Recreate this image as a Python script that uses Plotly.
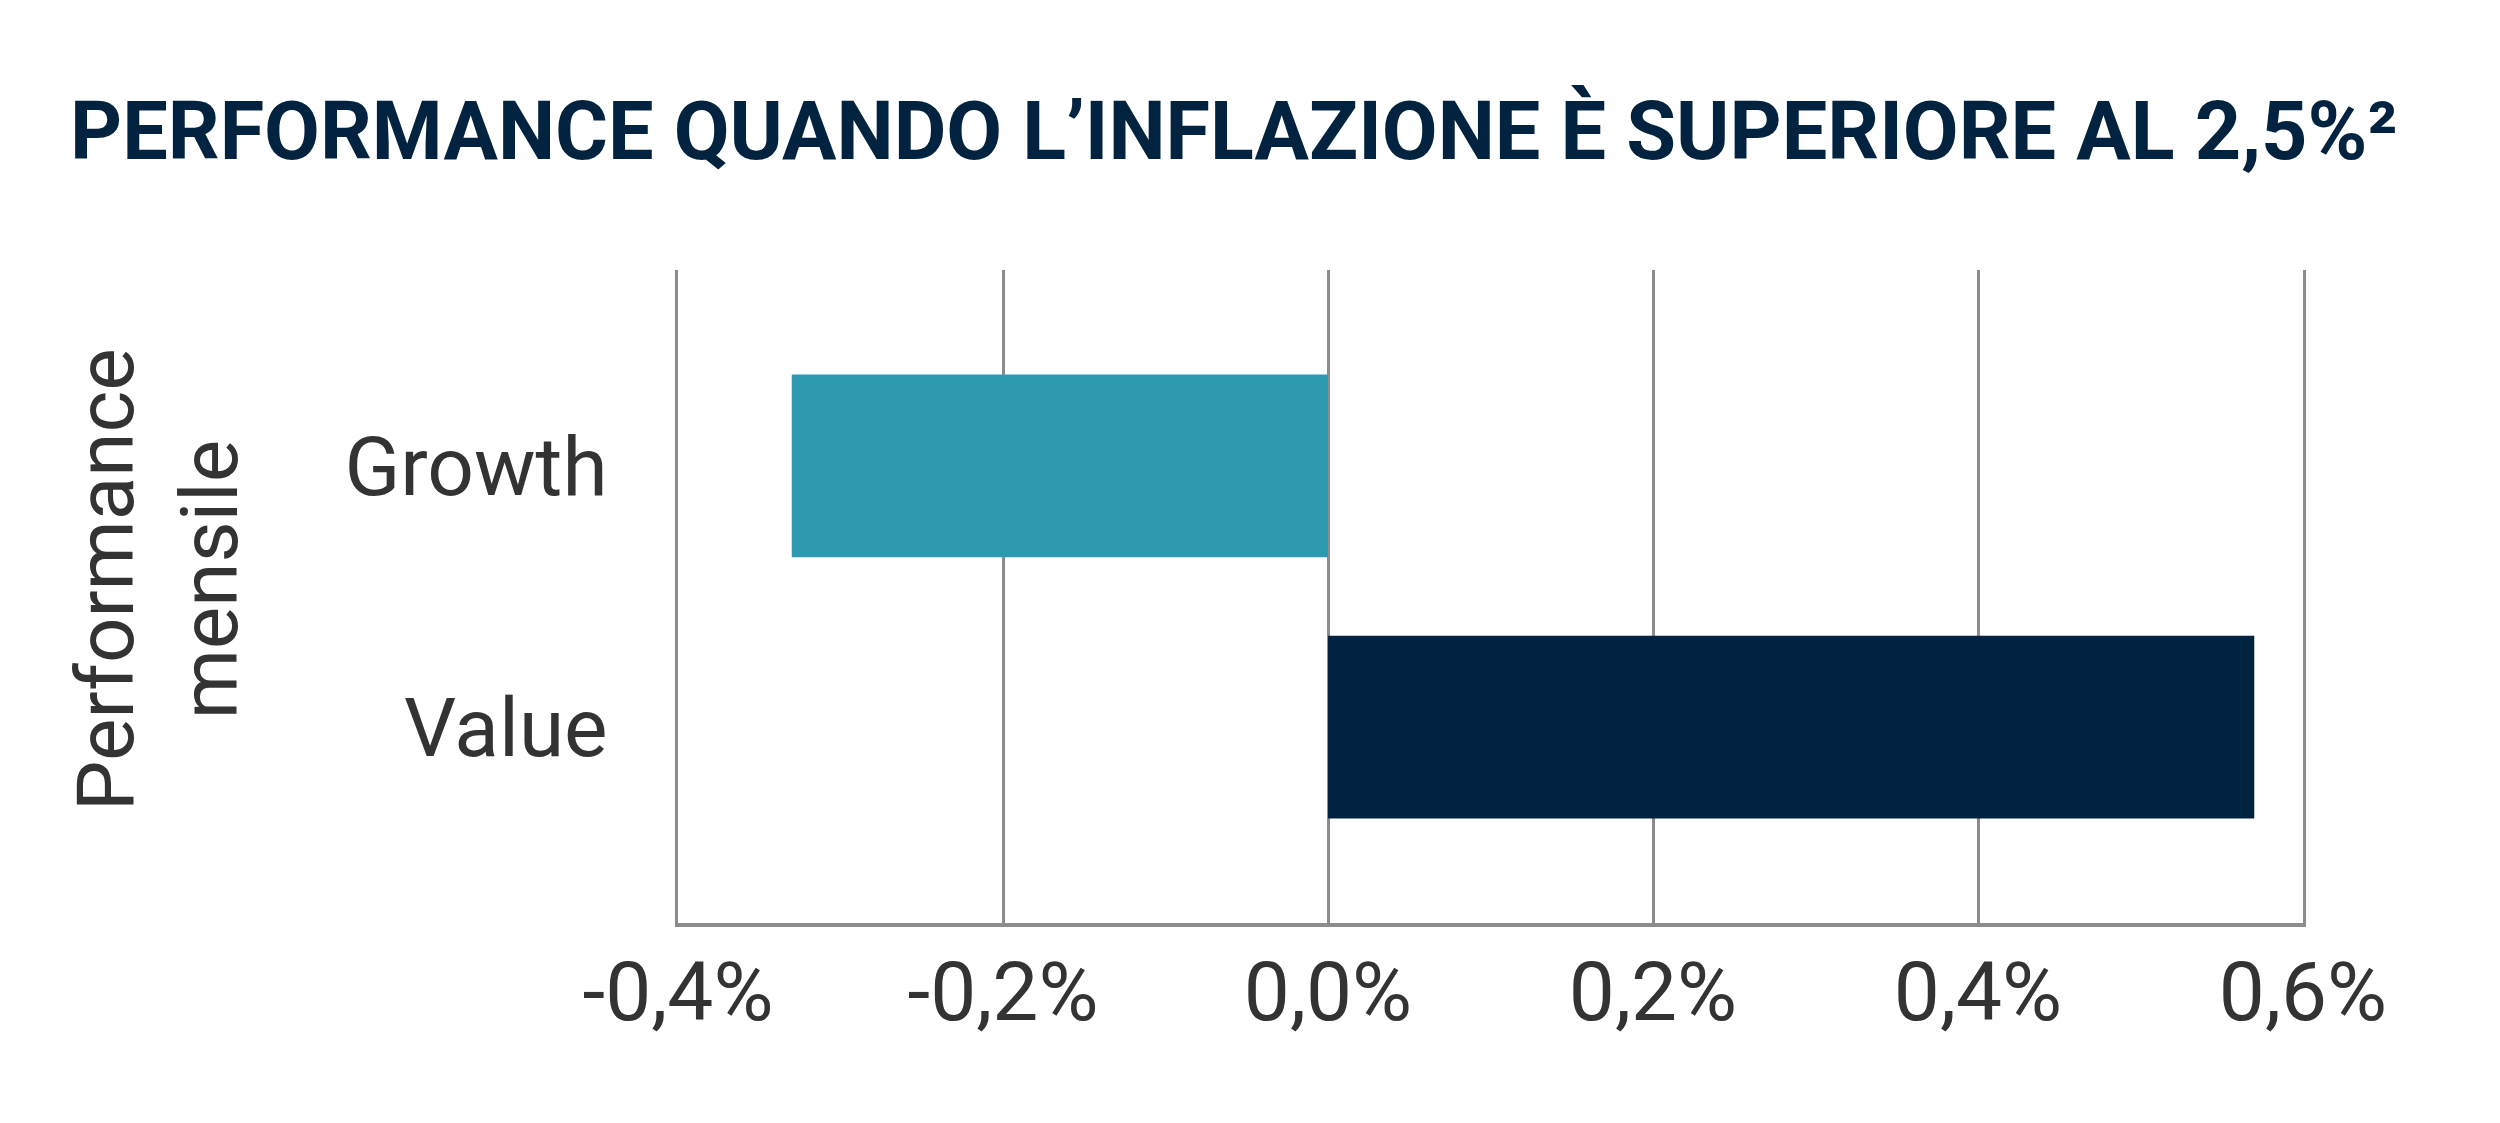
import plotly.graph_objects as go

# ---- data ----
categories = ["Growth", "Value"]
values = [-0.33, 0.57]          # performance mensile, %
bar_colors = ["#2E9AB0", "#02233F"]
x_tick_vals = [-0.4, -0.2, 0.0, 0.2, 0.4, 0.6]
x_tick_text = ["-0,4%", "-0,2%", "0,0%", "0,2%", "0,4%", "0,6%"]
title_text = "PERFORMANCE QUANDO L’INFLAZIONE È SUPERIORE AL 2,5%²"
y_title_text = "Performance<br>mensile"

W, H = 2500, 1123
L, R, T, B = 678, 197, 270, 200
plot_h = H - T - B
plot_w = W - L - R

fig = go.Figure()
fig.add_trace(go.Bar(
    x=values, y=categories, orientation="h",
    marker=dict(color=bar_colors, line=dict(width=0)),
    width=0.7, hoverinfo="skip", showlegend=False,
))

grid_color = "#8c8c8c"
fig.update_layout(
    width=W, height=H,
    margin=dict(l=L, r=R, t=T, b=B, pad=0),
    paper_bgcolor="white", plot_bgcolor="white",
    title=dict(
        text=title_text,
        font=dict(family="Roboto", size=81, color="#02233F", weight="bold"),
        x=70 / W, xanchor="left", xref="container",
        y=1 - 131 / H, yanchor="middle", yref="container",
    ),
    xaxis=dict(
        range=[-0.4, 0.6],
        tickvals=x_tick_vals, ticktext=x_tick_text,
        showgrid=True, gridcolor=grid_color, gridwidth=3,
        zeroline=True, zerolinecolor=grid_color, zerolinewidth=3,
        showline=True, linecolor=grid_color, linewidth=4,
        ticks="", ticklabelstandoff=-5,
        tickfont=dict(family="Roboto", size=82, color="#333333"),
        fixedrange=True,
    ),
    yaxis=dict(
        range=[1.75, -0.75],
        type="category",
        showgrid=False, zeroline=False,
        showline=True, mirror=True, linecolor=grid_color, linewidth=3,
        ticks="", ticklabelstandoff=51,
        tickfont=dict(family="Roboto", size=82, color="#333333"),
        fixedrange=True,
    ),
    annotations=[dict(
        text=y_title_text, textangle=-90,
        xref="paper", yref="paper",
        x=(158 - L) / plot_w, y=(H - B - 580) / plot_h,
        xanchor="center", yanchor="middle",
        showarrow=False, align="center",
        font=dict(family="Roboto", size=80, color="#333333"),
    )],
)

fig.write_html("out.html", config={"displayModeBar": False},
               post_script="document.body.style.margin='0';")
